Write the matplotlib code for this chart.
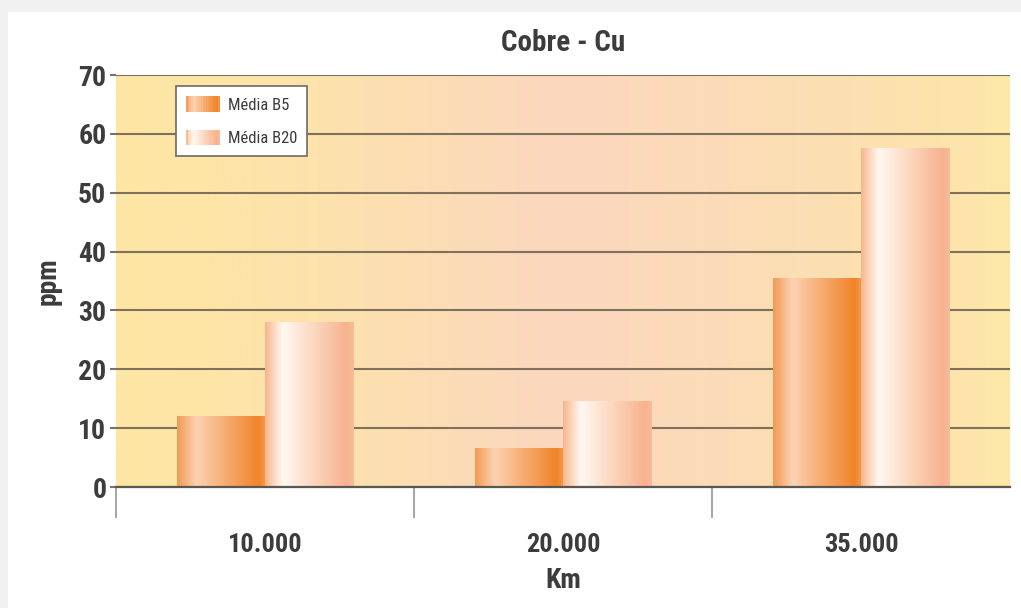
import numpy as np
import matplotlib
matplotlib.use("Agg")
import matplotlib.pyplot as plt
from matplotlib import font_manager as fm
from matplotlib.patches import Rectangle
from matplotlib.legend_handler import HandlerBase
from matplotlib.colors import LinearSegmentedColormap

# pick a narrow sans face if one is installed
def _narrow_font():
    prefs = ["Liberation Sans Narrow", "Roboto Condensed", "Open Sans Condensed",
             "DejaVu Sans Condensed", "Noto Sans Condensed", "Noto Sans Display"]
    entries = fm.fontManager.ttflist
    for p in prefs:
        for f in entries:
            if f.name == p:
                return p
    for f in entries:
        st = f.stretch
        narrow = ("ondensed" in f.name or "Narrow" in f.name or
                  (isinstance(st, str) and "condensed" in st) or
                  (isinstance(st, int) and st < 500))
        if narrow and f.style == "normal":
            return f.name
    return "DejaVu Sans"

FONT_NAME = _narrow_font()
plt.rcParams['font.family'] = [FONT_NAME, 'DejaVu Sans']

# data
categories = ["10.000", "20.000", "35.000"]
series_names = ["Média B5", "Média B20"]
media_b5 = [12, 6.5, 35.5]
media_b20 = [28, 14.5, 57.5]
yticks = [0, 10, 20, 30, 40, 50, 60, 70]

text_color = "#3c3c3c"
grid_color = "#7e725e"

# horizontal colour profiles for the cylinder-like bars
cmap_b5 = LinearSegmentedColormap.from_list(
    "b5", [(0.0, "#f29a52"), (0.22, "#fcd2b4"), (0.55, "#f6ac70"),
           (0.92, "#f0842a"), (1.0, "#f39a4e")])
cmap_b20 = LinearSegmentedColormap.from_list(
    "b20", [(0.0, "#f7b68c"), (0.2, "#fff8f2"), (0.6, "#fbd2b8"),
            (0.92, "#f7b290"), (1.0, "#f8bc98")])
cmap_bg = LinearSegmentedColormap.from_list(
    "bg", [(0.0, "#fde7a4"), (0.2, "#fde3aa"), (0.5, "#fbd7bf"),
           (0.8, "#fcdfb2"), (1.0, "#fde7a8")])

W, H = 1021, 608
fig = plt.figure(figsize=(W / 100, H / 100), dpi=100, facecolor="#f1f1f1")
fig.patches.append(Rectangle((8 / W, 0), 1 - 8 / W, 1 - 12 / H,
                             transform=fig.transFigure, facecolor="white",
                             edgecolor="none", zorder=-10))

ax = fig.add_axes([116 / W, 1 - 487 / H, (1010 - 116) / W, (487 - 75) / H])
ax.set_xlim(-0.5, 2.5)
ax.set_ylim(0, 70)

# background gradient
grad = np.linspace(0, 1, 512).reshape(1, -1)
ax.imshow(grad, cmap=cmap_bg, aspect="auto", extent=(-0.5, 2.5, 0, 70),
          zorder=0, interpolation="bicubic")

# gridlines
ax.set_yticks(yticks)
ax.yaxis.grid(True, color=grid_color, linewidth=1.5, zorder=1)
ax.set_axisbelow(True)

x = np.arange(len(categories))
bw = 0.296
bars5 = ax.bar(x - bw / 2, media_b5, width=bw, color="#f5a868",
               zorder=2, label=series_names[0])
bars20 = ax.bar(x + bw / 2, media_b20, width=bw, color="#fbd0b4",
                zorder=2, label=series_names[1])

def paint(bars, cmap):
    for b in bars:
        x0, y0 = b.get_x(), b.get_y()
        w, h = b.get_width(), b.get_height()
        ax.imshow(grad, cmap=cmap, aspect="auto",
                  extent=(x0, x0 + w, y0, y0 + h), zorder=3,
                  interpolation="bicubic")

paint(bars5, cmap_b5)
paint(bars20, cmap_b20)
ax.set_xlim(-0.5, 2.5)
ax.set_ylim(0, 70)

# spines
for s in ["top", "right", "left"]:
    ax.spines[s].set_visible(False)
ax.spines["bottom"].set_color("#5a5650")
ax.spines["bottom"].set_linewidth(1.6)
ax.spines["bottom"].set_zorder(5)

# ticks
ax.tick_params(axis="y", length=4, width=1.5, color=grid_color, pad=3,
               labelsize=20, labelcolor=text_color)
ax.set_xticks(x)
ax.set_xticklabels(categories)
ax.set_xticks([-0.5, 0.5, 1.5], minor=True)
ax.tick_params(axis="x", which="major", length=0, pad=33, labelsize=19,
               labelcolor=text_color)
ax.tick_params(axis="x", which="minor", length=22, width=1.5, color="#a8a8a8")
for lbl in ax.get_xticklabels():
    lbl.set_fontweight("semibold")
for lbl in ax.get_yticklabels():
    lbl.set_fontweight("bold")

ax.set_title("Cobre - Cu", fontsize=21, color=text_color, fontweight="bold",
             pad=17)
ax.set_xlabel("Km", fontsize=20, color=text_color, fontweight="bold",
              labelpad=7)
ax.set_ylabel("ppm", fontsize=20, color=text_color, fontweight="bold",
              labelpad=12)


class GradientHandler(HandlerBase):
    def __init__(self, cmap):
        super().__init__()
        self.cmap = cmap

    def create_artists(self, legend, orig_handle, xdescent, ydescent,
                       width, height, fontsize, trans):
        n = 20
        arts = []
        for i in range(n):
            r = Rectangle((-xdescent + width * i / n, -ydescent),
                          width / n + 0.3, height,
                          facecolor=self.cmap((i + 0.5) / n),
                          edgecolor="none", transform=trans)
            arts.append(r)
        return arts


leg = ax.legend(handles=[bars5, bars20], labels=series_names,
                handler_map={bars5: GradientHandler(cmap_b5),
                             bars20: GradientHandler(cmap_b20)},
                loc="upper left", bbox_to_anchor=(0.067, 0.973),
                borderaxespad=0,
                fontsize=12, frameon=True, fancybox=False,
                handlelength=2.0, handleheight=1.05, labelspacing=1.05,
                borderpad=0.6, handletextpad=0.5)
leg.get_frame().set_edgecolor("#6e6a64")
leg.get_frame().set_linewidth(1.2)
leg.get_frame().set_facecolor("white")
leg.get_frame().set_alpha(1)
leg.set_zorder(6)
for t in leg.get_texts():
    t.set_color(text_color)

fig.savefig("out.png", dpi=100, facecolor=fig.get_facecolor())
